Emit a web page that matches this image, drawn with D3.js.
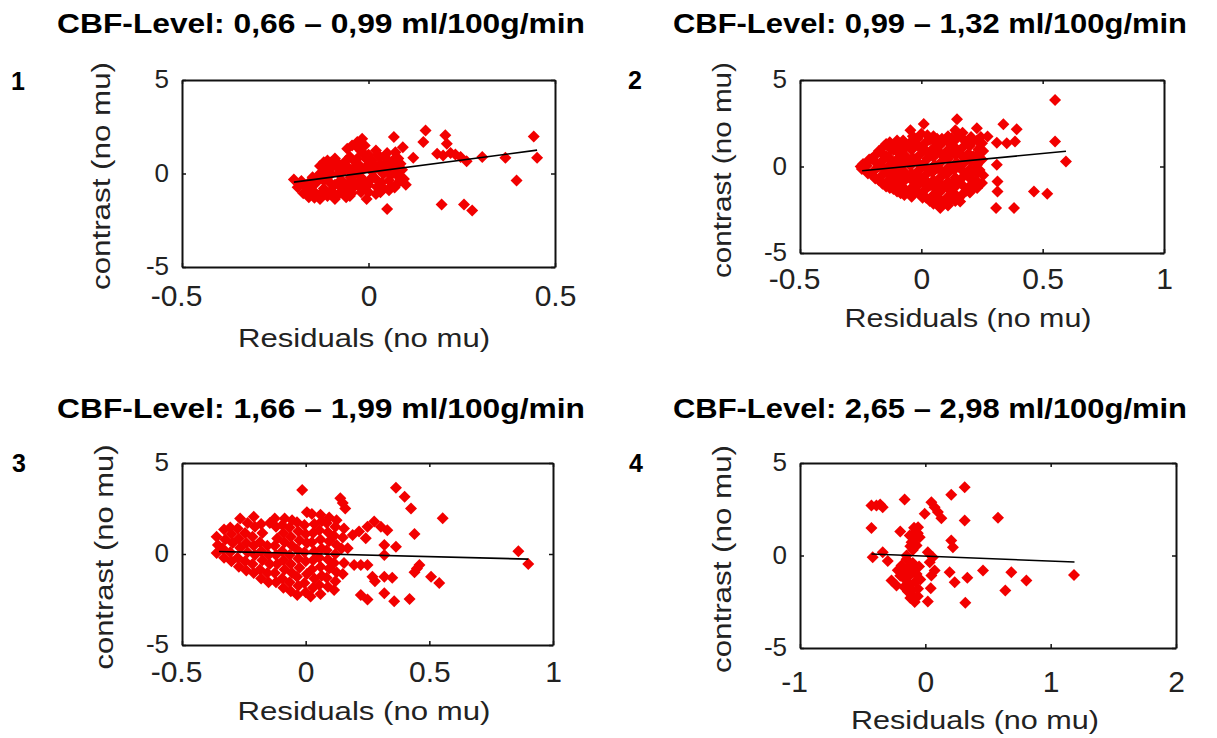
<!DOCTYPE html>
<html>
<head>
<meta charset="utf-8">
<script src="https://cdn.jsdelivr.net/npm/d3@7"></script>
<style>
  body { margin: 0; background: #fff; }
  svg { display: block; }
  .axis text { font-family: "Liberation Sans", Arial, sans-serif; fill: #222; }
  .axis path, .axis line { stroke: #111; }
</style>
</head>
<body>
<svg width="1217" height="738"></svg>
<script>
const svg = d3.select('svg');

// ---- data ----
const titles = [
  'CBF-Level: 0,66 \u2013 0,99 ml/100g/min',
  'CBF-Level: 0,99 \u2013 1,32 ml/100g/min',
  'CBF-Level: 1,66 \u2013 1,99 ml/100g/min',
  'CBF-Level: 2,65 \u2013 2,98 ml/100g/min'
];
const panelNumbers = ['1', '2', '3', '4'];
const xLabel = 'Residuals (no mu)';
const yLabel = 'contrast (no mu)';

const yTicks = [-5, 0, 5];
const xTicks1 = [-0.5, 0, 0.5];
const xTicks2 = [-0.5, 0, 0.5, 1];
const xTicks3 = [-0.5, 0, 0.5, 1];
const xTicks4 = [-1, 0, 1, 2];

// regression line end points [x, y]
const fit1 = [[-0.2, -0.46], [0.452, 1.25]];
const fit2 = [[-0.244, -0.25], [0.596, 0.88]];
const fit3 = [[-0.35, 0.14], [0.9, -0.28]];
const fit4 = [[-0.43, 0.08], [1.19, -0.35]];

const points1 = [
  [-0.20,-0.32],[-0.19,-0.73],[-0.17,-1.0],[-0.16,-1.27],[-0.15,-0.91],[-0.13,-1.36],[-0.12,-0.38],
  [-0.12,0.34],[-0.11,0.7],[-0.10,-0.91],[-0.10,-0.02],[-0.09,-1.36],[-0.08,0.52],[-0.075,-0.38],
  [-0.07,-0.91],[-0.06,-1.27],[-0.057,1.32],[-0.055,0.34],[-0.048,-0.2],[-0.044,1.5],[-0.04,-0.73],
  [-0.035,0.6],[-0.03,1.68],[-0.026,0.07],[-0.017,1.86],[-0.013,-0.38],[-0.008,0.96],[-0.005,-1.36],
  [0.0,0.43],[0.01,-0.2],[0.02,1.23],[0.023,-0.73],[0.032,0.52],[0.032,-1.0],[0.04,-0.02],[0.045,0.87],
  [0.05,-1.9],[0.055,-0.38],[0.063,0.34],[0.068,1.95],[0.072,1.14],[0.077,-0.1],[0.086,0.52],
  [0.092,1.41],[0.095,-0.29],[0.12,0.84],[0.147,1.68],[0.153,2.3],[0.184,1.05],[0.196,-1.66],
  [0.2,0.96],[0.206,2.04],[0.21,1.59],[0.22,1.09],[0.233,1.02],[0.247,0.88],[0.256,-1.66],[0.263,0.66],
  [0.278,-1.98],[0.305,0.88],[0.367,0.84],[0.397,-0.38],[0.443,1.98],[0.452,0.84],
  [-0.14,-0.5],[-0.13,0.0],[-0.12,-0.8],[-0.11,-0.2],[-0.1,0.3],[-0.09,-0.6],[-0.08,0.0],[-0.07,0.4],
  [-0.06,-0.9],[-0.05,0.1],[-0.04,-0.4],[-0.03,0.8],[-0.02,-1.0],[-0.01,0.3],[0.0,-0.6],[0.01,0.7],
  [0.02,-0.3],[0.03,0.2],[0.04,-0.8],[0.05,0.6],[0.06,-0.1],[0.07,0.4],[0.08,-0.5],[-0.16,-0.5],
  [-0.17,-0.7],[-0.14,-1.1],[-0.11,-1.2],[-0.08,-1.1],[-0.05,-1.2],[-0.02,1.2],[0.0,1.0],[0.02,-1.1],
  [0.05,1.1],[0.06,-0.7],[-0.12,0.6],[-0.09,0.8],[0.09,0.2],[0.1,-0.6],[-0.18,-0.4],[-0.15,-0.2],
  [-0.13,0.4],[-0.1,0.6],[-0.06,0.7],[-0.04,0.3],[-0.02,-0.2],[0.01,0.1],[0.03,0.9],[0.06,0.2],
  [0.08,0.8],[-0.07,-0.4],[-0.03,-0.6],[0.0,-1.0],[0.04,0.0],
  [-0.185,-0.55],[-0.175,-1.05],[-0.155,-0.75],[-0.145,-1.3],[-0.135,-0.25],[-0.125,-1.0],[-0.115,0.15],
  [-0.105,-0.45],[-0.095,-1.05],[-0.085,0.35],[-0.075,-0.7],[-0.065,0.15],[-0.055,-0.55],[-0.045,-1.05],
  [-0.035,0.05],[-0.025,0.45],[-0.015,-0.8],[-0.005,0.75],[0.005,-0.35],[0.015,0.45],[0.025,1.0],
  [0.035,-0.5],[0.045,0.35],[0.055,-0.9],[0.065,0.7],[0.075,0.15],[0.085,-0.3],[0.07,-0.75],
  [-0.03,1.4],[-0.05,0.9],[-0.01,1.5]
];

const points2 = [
  [-0.25,0.0],[-0.245,-0.15],[-0.24,0.15],
  [-0.22,-0.4],[-0.225,0.05],[-0.215,0.4],
  [-0.19,-0.7],[-0.195,-0.25],[-0.185,0.2],[-0.19,0.65],
  [-0.16,-1.0],[-0.165,-0.55],[-0.155,-0.1],[-0.16,0.35],[-0.165,0.8],[-0.155,1.15],
  [-0.13,-1.25],[-0.135,-0.8],[-0.125,-0.35],[-0.13,0.1],[-0.135,0.55],[-0.125,1.0],[-0.13,1.4],
  [-0.10,-1.45],[-0.105,-1.0],[-0.095,-0.55],[-0.1,-0.1],[-0.105,0.35],[-0.095,0.8],[-0.1,1.25],[-0.1,1.5],
  [-0.07,-1.65],[-0.075,-1.2],[-0.065,-0.75],[-0.07,-0.3],[-0.075,0.15],[-0.065,0.6],[-0.07,1.05],[-0.075,1.5],
  [-0.045,2.1],[-0.04,-1.75],[-0.045,-1.3],[-0.035,-0.85],[-0.04,-0.4],[-0.045,0.05],[-0.035,0.5],
  [-0.04,0.95],[-0.045,1.4],[-0.035,1.75],
  [-0.01,-1.55],[-0.015,-1.1],[-0.005,-0.65],[-0.01,-0.2],[-0.015,0.25],[-0.005,0.7],[-0.01,1.15],
  [-0.015,1.6],[0.01,2.45],
  [0.02,-1.8],[0.015,-1.35],[0.025,-0.9],[0.02,-0.45],[0.015,0.0],[0.025,0.45],[0.02,0.9],[0.015,1.35],[0.025,1.8],
  [0.05,-2.15],[0.045,-1.7],[0.055,-1.25],[0.05,-0.8],[0.045,-0.35],[0.055,0.1],[0.05,0.55],[0.045,1.0],
  [0.055,1.45],[0.05,1.75],
  [0.078,-2.4],[0.08,-1.95],[0.075,-1.5],[0.085,-1.05],[0.08,-0.6],[0.075,-0.15],[0.085,0.3],[0.08,0.75],
  [0.075,1.2],[0.085,1.6],
  [0.11,-2.25],[0.105,-1.8],[0.115,-1.35],[0.11,-0.9],[0.105,-0.45],[0.115,0.0],[0.11,0.45],[0.105,0.9],
  [0.115,1.35],[0.11,1.75],
  [0.147,2.73],[0.14,-2.0],[0.135,-1.55],[0.145,-1.1],[0.14,-0.65],[0.135,-0.2],[0.145,0.25],[0.14,0.7],
  [0.135,1.15],[0.145,1.6],[0.14,2.1],
  [0.16,-2.02],[0.17,-1.6],[0.175,-1.15],[0.165,-0.7],[0.17,-0.25],[0.175,0.2],[0.165,0.65],[0.17,1.1],
  [0.175,1.55],[0.17,1.95],
  [0.2,-1.5],[0.205,-1.05],[0.195,-0.6],[0.2,-0.15],[0.205,0.3],[0.195,0.75],[0.2,1.2],[0.205,1.7],
  [0.229,2.21],[0.23,-1.25],[0.225,-0.8],[0.235,-0.35],[0.23,0.1],[0.225,0.55],[0.235,1.0],[0.23,1.5],
  [0.25,-0.95],[0.255,-0.5],[0.25,0.4],[0.255,0.9],[0.25,1.35],
  [-0.205,-0.45],[-0.205,0.45],[-0.175,-0.8],[-0.175,0.0],[-0.175,0.9],[-0.145,-1.15],[-0.145,-0.3],
  [-0.145,0.6],[-0.145,1.3],[-0.115,-1.3],[-0.115,-0.75],[-0.115,0.1],[-0.115,0.95],[-0.085,-1.55],
  [-0.085,-0.9],[-0.085,-0.2],[-0.085,0.5],[-0.085,1.2],[-0.055,-1.5],[-0.055,-0.6],[-0.055,0.3],
  [-0.055,1.2],[-0.025,-1.4],[-0.025,-0.5],[-0.025,0.4],[-0.025,1.35],[0.0,1.9],[0.005,-1.8],[0.005,-0.9],
  [0.005,0.1],[0.005,1.0],[0.035,-2.0],[0.035,-1.1],[0.035,-0.2],[0.035,0.7],[0.035,1.55],[0.065,-1.9],
  [0.065,-1.0],[0.065,-0.1],[0.065,0.8],[0.065,1.6],[0.095,-2.1],[0.095,-1.2],[0.095,-0.3],[0.095,0.6],
  [0.095,1.5],[0.125,-1.9],[0.125,-1.0],[0.125,-0.1],[0.125,0.8],[0.125,1.65],[0.155,-1.8],[0.155,-0.9],
  [0.155,0.0],[0.155,0.9],[0.155,1.8],[0.185,-1.4],[0.185,-0.4],[0.185,0.5],[0.185,1.4],[0.215,-1.2],
  [0.215,-0.3],[0.215,0.6],[0.215,1.5],[0.24,-0.2],[0.24,0.75],[0.245,1.7],
  [0.273,1.73],[0.311,1.38],[0.338,2.44],[0.352,1.35],[0.386,1.44],[0.393,2.15],[0.311,0.1],
  [0.314,-0.87],[0.314,-1.44],[0.308,-2.4],[0.382,-2.4],[0.464,-1.44],[0.519,-1.58],[0.551,3.85],
  [0.551,1.44],[0.596,0.29]
];

const points3 = [
  [-0.36,0.05],[-0.355,0.5],[-0.36,0.95],
  [-0.33,-0.2],[-0.335,0.3],[-0.325,0.8],[-0.33,1.35],
  [-0.3,-0.4],[-0.305,0.1],[-0.295,0.6],[-0.3,1.1],[-0.305,1.45],
  [-0.27,-0.7],[-0.275,-0.2],[-0.265,0.35],[-0.27,0.85],[-0.275,1.4],[-0.265,1.95],
  [-0.24,-0.9],[-0.245,-0.4],[-0.235,0.1],[-0.24,0.6],[-0.245,1.15],[-0.235,1.7],
  [-0.21,-1.05],[-0.215,-0.55],[-0.205,-0.05],[-0.21,0.45],[-0.215,0.95],[-0.205,1.5],[-0.21,2.05],
  [-0.18,-1.35],[-0.185,-0.85],[-0.175,-0.35],[-0.18,0.15],[-0.185,0.65],[-0.175,1.15],[-0.18,1.65],
  [-0.15,-1.55],[-0.155,-1.05],[-0.145,-0.55],[-0.15,-0.05],[-0.155,0.45],[-0.145,1.7],
  [-0.12,-1.55],[-0.125,-1.05],[-0.115,-0.55],[-0.12,-0.05],[-0.125,0.45],[-0.115,0.85],[-0.12,1.5],[-0.125,1.95],
  [-0.09,-1.85],[-0.095,-1.35],[-0.085,-0.85],[-0.09,-0.35],[-0.095,0.15],[-0.085,0.65],[-0.09,1.15],
  [-0.095,1.6],[-0.085,1.95],
  [-0.06,-2.05],[-0.065,-1.55],[-0.055,-1.05],[-0.06,-0.55],[-0.065,-0.05],[-0.055,0.45],[-0.06,0.95],
  [-0.065,1.45],[-0.055,1.85],
  [-0.034,-2.25],[-0.03,-1.75],[-0.035,-1.25],[-0.025,-0.75],[-0.03,-0.25],[-0.035,0.25],[-0.025,0.75],
  [-0.03,1.25],[-0.035,1.75],[-0.014,3.52],
  [0.0,-2.1],[-0.005,-1.6],[0.005,-1.1],[0.0,-0.4],[-0.005,0.1],[0.005,0.6],[0.0,1.1],[-0.005,1.6],[0.005,2.3],
  [0.02,-2.34],[0.03,-1.85],[0.035,-1.35],[0.025,-0.85],[0.03,-0.35],[0.035,0.15],[0.025,0.65],[0.03,1.15],
  [0.035,1.65],[0.025,2.2],
  [0.06,-2.2],[0.055,-1.7],[0.065,-1.2],[0.06,-0.7],[0.055,-0.2],[0.065,0.3],[0.06,0.8],[0.055,1.3],
  [0.065,1.8],[0.06,2.15],
  [0.09,-1.8],[0.085,-1.3],[0.095,-0.8],[0.09,-0.3],[0.085,0.2],[0.095,0.7],[0.09,1.2],[0.085,1.7],[0.095,2.0],
  [0.115,-1.98],[0.12,-1.5],[0.125,-1.0],[0.115,-0.5],[0.12,0.0],[0.125,0.5],[0.115,1.0],[0.12,1.5],[0.125,1.85],
  [0.15,-1.1],[0.155,-0.5],[0.145,0.3],[0.15,0.9],[0.155,1.4],[0.14,3.06],[0.16,2.5],[0.15,2.8],
  [0.196,-0.6],[0.223,-0.6],[0.25,-0.6],[0.27,-1.25],[0.318,-1.25],[0.35,-1.3],[0.28,-1.5],[0.45,-0.79],
  [0.46,-0.6],[0.44,-1.0],[0.507,-1.25],[0.54,-1.6],[0.223,-2.25],[0.25,-2.5],[0.318,-2.16],[0.358,-2.6],
  [0.42,-2.47],[0.365,3.64],[0.4,3.15],[0.426,2.5],[0.554,1.96],[0.44,1.1],[0.365,0.4],[0.318,0.49],
  [0.304,1.5],[0.33,1.3],[0.25,1.5],[0.277,1.78],[0.243,0.86],[0.318,-0.05],[0.19,1.04],[0.216,1.23],
  [0.17,0.31],[0.86,0.15],[0.9,-0.55]
];

const points4 = [
  [-0.43,2.7],[-0.39,2.7],[-0.34,2.61],[-0.36,2.75],[-0.43,1.48],[-0.42,-0.09],[-0.34,0.18],
  [-0.165,3.03],[-0.2,1.3],[-0.27,-1.35],[-0.23,-1.62],[-0.19,-0.54],[-0.18,-0.9],[-0.16,-1.3],
  [-0.15,-0.2],[-0.14,-0.7],[-0.13,-1.1],[-0.12,-1.6],[-0.11,-1.9],[-0.1,-2.16],[-0.085,-2.52],
  [-0.14,-1.95],[-0.17,-1.7],[-0.08,-1.4],[-0.07,-1.0],[-0.058,-1.8],[-0.05,-0.6],[-0.04,-1.3],
  [-0.1,-0.4],[-0.2,-1.1],[-0.22,-0.8],[-0.12,-2.3],[-0.06,-2.2],[-0.09,-0.9],[-0.3,-0.3],
  [-0.125,1.08],[-0.11,0.72],[-0.085,1.26],[-0.058,1.53],[-0.045,0.99],[-0.07,0.54],[-0.1,0.3],
  [-0.15,0.0],[-0.09,1.5],[-0.06,1.2],[-0.12,0.5],[-0.08,0.9],
  [-0.005,2.25],[0.048,2.88],[0.074,2.61],[0.1,2.35],[0.128,2.02],[0.207,3.28],[0.314,3.69],
  [0.314,1.89],[0.58,2.04],[0.207,0.81],[0.22,0.45],[0.02,0.18],[0.06,-0.09],[0.035,-0.36],
  [0.074,-0.81],[0.048,-1.08],[0.043,-1.77],[0.02,-2.49],[0.194,-0.9],[0.234,-1.44],[0.335,-1.2],
  [0.319,-2.56],[0.46,-0.81],[0.686,-0.9],[0.638,-1.89],[0.806,-1.35],[1.186,-1.05]
];

// ---- layout ----
const panels = [
  { num: panelNumbers[0], title: titles[0], pts: points1, fit: fit1, xDomain: [-0.5, 0.5], xTicks: xTicks1,
    box: { l: 182, r: 555, t: 80, b: 267 }, titleX: 321, titleY: 33, titleLen: 528, numX: 11, numY: 90,
    xPad: 17, xLabX: 364, xLabY: 347, xLabLen: 252, yLabX: 110, yLabY: 176, yLabLen: 228 },
  { num: panelNumbers[1], title: titles[1], pts: points2, fit: fit2, xDomain: [-0.5, 1], xTicks: xTicks2,
    box: { l: 800, r: 1164, t: 80, b: 253 }, titleX: 930, titleY: 33, titleLen: 514, numX: 628, numY: 89,
    xPad: 14, xLabX: 968, xLabY: 327, xLabLen: 247, yLabX: 731, yLabY: 170, yLabLen: 216 },
  { num: panelNumbers[2], title: titles[2], pts: points3, fit: fit3, xDomain: [-0.5, 1], xTicks: xTicks3,
    box: { l: 182, r: 553, t: 463, b: 645 }, titleX: 321, titleY: 418, titleLen: 528, numX: 12, numY: 472,
    xPad: 15, xLabX: 364, xLabY: 720, xLabLen: 253, yLabX: 113, yLabY: 557, yLabLen: 225 },
  { num: panelNumbers[3], title: titles[3], pts: points4, fit: fit4, xDomain: [-1, 2], xTicks: xTicks4,
    box: { l: 800, r: 1176, t: 463, b: 648 }, titleX: 930, titleY: 418, titleLen: 514, numX: 629, numY: 472,
    xPad: 22, xLabX: 975, xLabY: 729, xLabLen: 248, yLabX: 731, yLabY: 559, yLabLen: 228 }
];

const diamond = d3.symbol().type(d3.symbolSquare).size(72);
const plainNumber = d => String(d); // keeps the ascii hyphen for negatives

const renderPanel = (p) => {
  const { box } = p;
  const x = d3.scaleLinear().domain(p.xDomain).range([box.l, box.r]);
  const y = d3.scaleLinear().domain([-5, 5]).range([box.b, box.t]);
  const g = svg.append('g').attr('class', 'panel');

  // title and panel number
  g.append('text')
    .attr('x', p.titleX).attr('y', p.titleY)
    .attr('text-anchor', 'middle')
    .attr('textLength', p.titleLen).attr('lengthAdjust', 'spacingAndGlyphs')
    .style('font-family', '"Liberation Sans", Arial, sans-serif')
    .style('font-weight', 'bold').style('font-size', '27px')
    .text(p.title);
  g.append('text')
    .attr('x', p.numX).attr('y', p.numY)
    .style('font-family', '"Liberation Sans", Arial, sans-serif')
    .style('font-weight', 'bold').style('font-size', '25px')
    .text(p.num);

  // scatter
  g.append('g').selectAll('path.pt')
    .data(p.pts)
    .enter().append('path')
      .attr('class', 'pt')
      .attr('d', diamond)
      .attr('transform', d => `translate(${x(d[0])},${y(d[1])}) rotate(45)`)
      .attr('fill', '#f20000');

  // fit line
  g.append('path')
    .datum(p.fit)
    .attr('d', d3.line().x(d => x(d[0])).y(d => y(d[1])))
    .attr('fill', 'none').attr('stroke', '#000').attr('stroke-width', 1.6);

  // axes (ticks pointing inward on all four sides)
  const bottom = g.append('g').attr('class', 'axis')
    .attr('transform', `translate(0,${box.b})`)
    .call(d3.axisBottom(x).tickValues(p.xTicks).tickSize(-4).tickSizeOuter(0).tickPadding(p.xPad).tickFormat(plainNumber));
  bottom.selectAll('text')
    .style('font-size', '30px').attr('dy', '0.72em')
    .attr('dx', d => d < 0 ? -6 : 0);

  const left = g.append('g').attr('class', 'axis')
    .attr('transform', `translate(${box.l},0)`)
    .call(d3.axisLeft(y).tickValues(yTicks).tickSize(-4).tickSizeOuter(0).tickPadding(13).tickFormat(plainNumber));
  left.selectAll('text').style('font-size', '26px').attr('dy', '0.3em');

  g.append('g').attr('class', 'axis')
    .attr('transform', `translate(0,${box.t})`)
    .call(d3.axisTop(x).tickValues(p.xTicks).tickSize(-4).tickSizeOuter(0).tickFormat(''));
  g.append('g').attr('class', 'axis')
    .attr('transform', `translate(${box.r},0)`)
    .call(d3.axisRight(y).tickValues(yTicks).tickSize(-4).tickSizeOuter(0).tickFormat(''));
  g.selectAll('.axis path.domain').attr('stroke-width', 2);
  g.selectAll('.axis line').attr('stroke-width', 1.5);

  // axis titles
  g.append('text')
    .attr('x', p.xLabX).attr('y', p.xLabY)
    .attr('text-anchor', 'middle')
    .attr('textLength', p.xLabLen).attr('lengthAdjust', 'spacingAndGlyphs')
    .style('font-family', '"Liberation Sans", Arial, sans-serif')
    .style('font-size', '25px').attr('fill', '#222')
    .text(xLabel);
  g.append('text')
    .attr('transform', `translate(${p.yLabX},${p.yLabY}) rotate(-90)`)
    .attr('text-anchor', 'middle')
    .attr('textLength', p.yLabLen).attr('lengthAdjust', 'spacingAndGlyphs')
    .style('font-family', '"Liberation Sans", Arial, sans-serif')
    .style('font-size', '25px').attr('fill', '#222')
    .text(yLabel);
};

panels.forEach(renderPanel);
</script>
</body>
</html>
